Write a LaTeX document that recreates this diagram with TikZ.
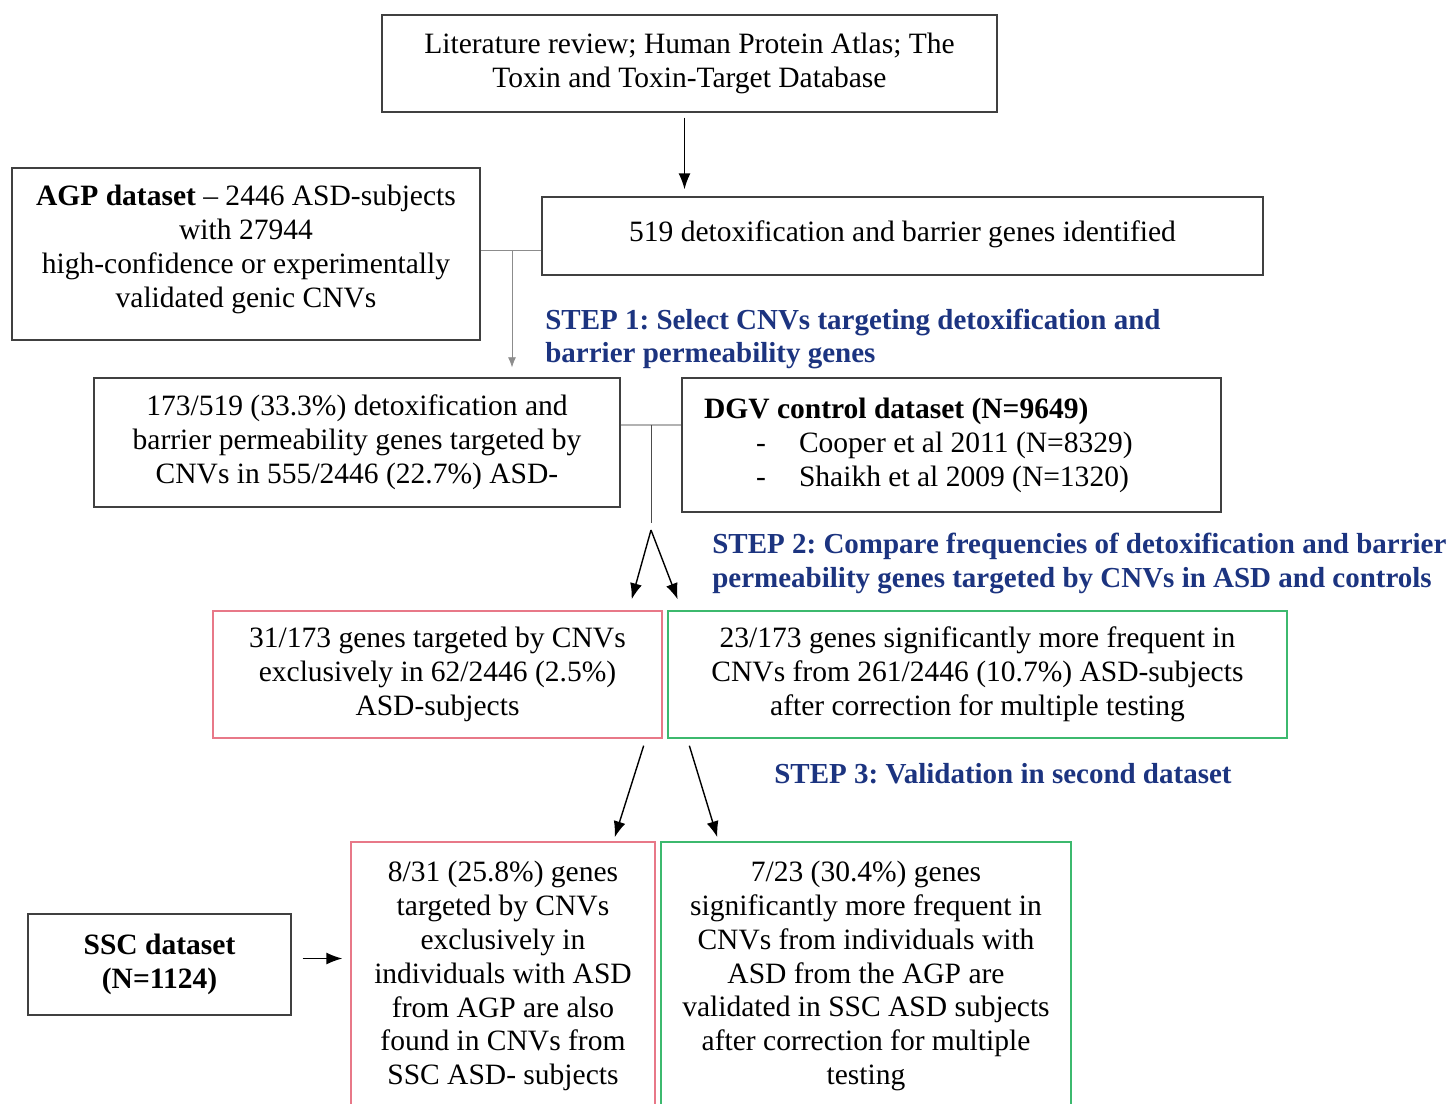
\documentclass[tikz,border=0pt]{standalone}
\usepackage{fontspec}
\setmainfont{Liberation Serif}
\usepackage{xcolor}
\usetikzlibrary{arrows.meta,positioning,calc}
\definecolor{stepblue}{RGB}{28,52,128}
\definecolor{boxred}{RGB}{232,120,136}
\definecolor{boxgreen}{RGB}{60,185,110}
\frenchspacing
\begin{document}
\begin{tikzpicture}[
    >=Latex,
    x=0.02cm, y=-0.02cm,
    every node/.style={font=\fontsize{16.8}{19.3}\selectfont},
    plain/.style={draw=black!75, thick, align=center, inner sep=0pt},
    redbox/.style={draw=boxred, thick, align=center, inner sep=0pt},
    greenbox/.style={draw=boxgreen, thick, align=center, inner sep=0pt},
    steptext/.style={text=stepblue, font=\fontsize{16.5}{19.3}\selectfont\bfseries, align=left, anchor=west, inner sep=0pt},
    link/.style={draw=black!45},
    arr/.style={->, thick, >={Latex[length=3.2mm,width=2.4mm]}}
]
\useasboundingbox (0,0) rectangle (1449,1103);
\clip (0,0) rectangle (1449,1103);

\node[plain, minimum width=12.3cm, minimum height=1.94cm] (lit) at (689.5,63.5) {Literature review; Human Protein Atlas; The\\Toxin and Toxin-Target Database};
\node[plain, minimum width=9.36cm, minimum height=3.44cm] (agp) at (246,254) {\textbf{AGP dataset} -- 2446 ASD-subjects\\with 27944\\high-confidence or experimentally\\validated genic CNVs\\[-0.6em]};
\node[plain, minimum width=14.42cm, minimum height=1.56cm] (genes) at (902.5,236) {\raisebox{0.35em}{519 detoxification and barrier genes identified}};

\node[steptext] (step1) at (545,339) {STEP 1: Select CNVs targeting detoxification and\\barrier permeability genes};

\node[plain, minimum width=10.52cm, minimum height=2.58cm] (sel) at (357,442.5) {173/519 (33.3\%) detoxification and\\barrier permeability genes targeted by\\CNVs in 555/2446 (22.7\%) ASD-};
\node[plain, minimum height=2.68cm, text width=9.9cm, inner xsep=0.44cm, align=flush left] (dgv) at (951.5,445) {\textbf{DGV control dataset (N=9649)}\\
\makebox[1.9cm][l]{\hspace{1.04cm}-}Cooper et al 2011 (N=8329)\\
\makebox[1.9cm][l]{\hspace{1.04cm}-}Shaikh et al 2009 (N=1320)};

\node[steptext] (step2) at (712,563.5) {STEP 2: Compare frequencies of detoxification and barrier\\permeability genes targeted by CNVs in ASD and controls};

\node[redbox, minimum width=8.98cm, minimum height=2.54cm] (excl) at (437.5,674.5) {31/173 genes targeted by CNVs\\exclusively in 62/2446 (2.5\%)\\ASD-subjects};
\node[greenbox, minimum width=12.38cm, minimum height=2.54cm] (freq) at (977.5,674.5) {23/173 genes significantly more frequent in\\CNVs from 261/2446 (10.7\%) ASD-subjects\\after correction for multiple testing};

\node[steptext] (step3) at (774,774) {STEP 3: Validation in second dataset};

\node[redbox, minimum width=6.08cm, minimum height=5.36cm] (valA) at (503,976) {8/31 (25.8\%) genes\\targeted by CNVs\\exclusively in\\individuals with ASD\\from AGP are also\\found in CNVs from\\SSC ASD- subjects};
\node[greenbox, minimum width=8.2cm, minimum height=5.36cm] (valB) at (866,976) {7/23 (30.4\%) genes\\significantly more frequent in\\CNVs from individuals with\\ASD from the AGP are\\validated in SSC ASD subjects\\after correction for multiple\\testing};
\node[plain, minimum width=5.26cm, minimum height=2.02cm] (ssc) at (159.5,964.5) {\textbf{SSC dataset}\\\textbf{(N=1124)}};

\coordinate (j1) at (512,250);
\coordinate (j2) at (651,425);
\coordinate (fork) at (651,523);

\draw[arr] ($(lit.south)+(-5,5)$) -- ($(lit.south |- genes.north)+(-5,-7)$);
\draw[link] (agp.east |- j1) -- (genes.west |- j1);
\draw[link, ->, >={Latex[length=2mm,width=1.6mm]}] (j1) -- ($(sel.north -| j1)+(0,-10)$);
\draw[link, very thick, draw=black!30] (sel.east |- j2) -- (dgv.west |- j2);
\draw[thin, black!70] (j2) -- (fork);
\draw[arr] ($(fork)+(0,7)$) -- ($(excl.north east)+(-31,-11)$);
\draw[arr] ($(fork)+(0,7)$) -- ($(excl.north east)+(15,-11)$);
\draw[arr] ($(excl.south east)+(-19,7)$) -- ($(valA.north east)+(-41,-4)$);
\draw[arr] ($(freq.south west)+(22,7)$) -- ($(valB.north west)+(57,-4)$);
\draw[arr] ($(ssc.east)+(11,-6)$) -- ($(valA.west |- ssc.east)+(-8,-6)$);

\end{tikzpicture}
\end{document}
